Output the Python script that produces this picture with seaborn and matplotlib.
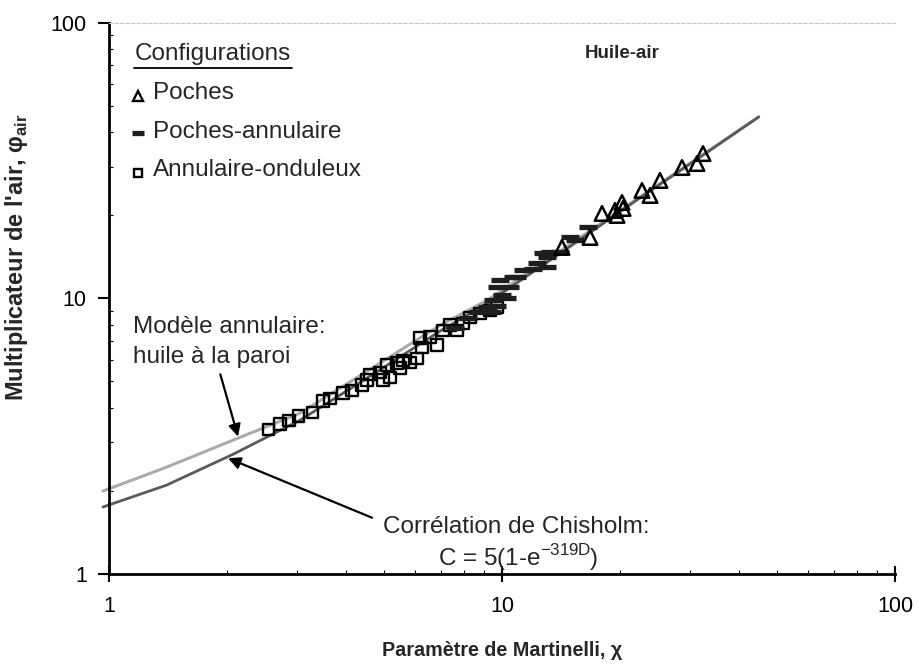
import numpy as np
import pandas as pd
import matplotlib
matplotlib.use("Agg")
import matplotlib.pyplot as plt
from matplotlib.lines import Line2D
from matplotlib.ticker import FixedLocator, FixedFormatter, LogLocator, NullFormatter
import seaborn as sns

# Annulaire-onduleux (open squares)
ann_x = [2.55, 2.72, 2.87, 3.04, 3.29, 3.50, 3.65, 3.94, 4.15, 4.40, 4.54, 4.62,
         4.89, 4.98, 5.19, 5.10, 5.41, 5.50, 5.60, 5.83, 6.08, 6.26, 6.19, 6.56,
         6.83, 7.08, 7.37, 7.68, 7.96, 8.29, 8.79, 9.32, 9.71]
ann_phi = [3.35, 3.50, 3.61, 3.74, 3.86, 4.24, 4.34, 4.53, 4.64, 4.84, 5.05, 5.30,
           5.39, 5.05, 5.17, 5.72, 5.82, 5.58, 5.96, 5.86, 6.06, 6.64, 7.17, 7.23,
           6.76, 7.66, 7.99, 7.66, 8.12, 8.53, 8.82, 9.05, 9.28]

# Poches-annulaire (dashes)
pa_x = [7.59, 8.20, 8.69, 9.16, 9.43, 9.49, 9.71, 9.88, 9.71, 10.0, 10.30, 10.48,
        10.67, 10.92, 11.31, 11.99, 12.27, 12.72, 13.02, 13.02, 13.25, 14.05, 14.89,
        15.34, 16.55]
pa_phi = [7.79, 8.46, 8.90, 9.28, 8.90, 9.84, 9.36, 11.62, 10.96, 10.25, 10.00, 10.96,
          11.92, 11.92, 12.63, 12.74, 13.39, 14.56, 12.95, 14.08, 14.68, 14.68, 16.63,
          16.23, 18.08]

# Poches (open triangles)
po_x = [14.21, 16.75, 17.97, 19.39, 19.62, 20.20, 20.32, 22.71, 23.81, 25.23, 28.71,
        31.35, 32.47]
po_phi = [15.30, 16.63, 20.32, 20.84, 19.99, 22.27, 21.19, 24.62, 23.62, 26.77, 29.83,
          30.84, 33.52]

# Model curves
curve_x = [0.965, 1.4, 2.07, 3.06, 4.5, 6.95, 9.16, 14.0, 22.0, 32.0, 45.0]
annular_phi = [2.00, 2.44, 3.06, 3.83, 5.40, 7.98, 9.83, 14.8, 22.9, 32.8, 45.6]
chisholm_phi = [1.75, 2.10, 2.72, 3.61, 5.10, 7.60, 9.60, 14.5, 22.7, 32.6, 45.5]

sns.set_theme(style="white")
plt.rcParams['font.family'] = ['Liberation Sans', 'DejaVu Sans']
plt.rcParams['axes.unicode_minus'] = False

W, H = 920, 664
fig = plt.figure(figsize=(W / 100, H / 100), dpi=100)
ax = fig.add_axes([109 / W, 1 - 574 / H, (895 - 109) / W, (574 - 22.7) / H])
ax.set_xscale('log')
ax.set_yscale('log')

sns.lineplot(x=curve_x, y=annular_phi, ax=ax, color='#ababab', lw=2.2,
             sort=False, estimator=None, clip_on=False, zorder=2)
sns.lineplot(x=curve_x, y=chisholm_phi, ax=ax, color='#5a5a5a', lw=2.0,
             sort=False, estimator=None, clip_on=False, zorder=2)

sns.scatterplot(x=ann_x, y=ann_phi, ax=ax, marker='s', s=68, facecolor='none',
                edgecolor='black', linewidth=1.7, zorder=3)
sns.scatterplot(x=pa_x, y=pa_phi, ax=ax, marker='_', s=160, color='#1e1e1e',
                linewidth=3.8, zorder=3)
sns.scatterplot(x=po_x, y=po_phi, ax=ax, marker='^', s=110, facecolor='none',
                edgecolor='black', linewidth=1.8, zorder=3)

ax.set_xlim(1, 100)
ax.set_ylim(1, 100)
for axis in (ax.xaxis, ax.yaxis):
    axis.set_major_locator(FixedLocator([1, 10, 100]))
    axis.set_major_formatter(FixedFormatter(['1', '10', '100']))
    axis.set_minor_locator(LogLocator(base=10, subs=np.arange(2, 10)))
    axis.set_minor_formatter(NullFormatter())
ax.grid(False)
ax.tick_params(which='both', bottom=True, left=True, top=False, right=False, colors='black')
ax.tick_params(axis='x', which='major', direction='inout', length=12, width=1.5,
               labelsize=15.5, pad=10)
ax.tick_params(axis='y', which='major', direction='out', length=8, width=1.5,
               labelsize=15.5, pad=8)
ax.tick_params(which='minor', direction='in', length=3, width=0.8)
for side in ('left', 'bottom'):
    ax.spines[side].set_color('black')
    ax.spines[side].set_linewidth(2)
ax.spines['right'].set_visible(False)
ax.spines['top'].set_color('#c4c4c4')
ax.spines['top'].set_linewidth(0.8)
ax.spines['top'].set_linestyle((0, (3, 2)))

ax.set_xlabel("Paramètre de Martinelli, χ", fontsize=14.2, fontweight='bold', labelpad=17)
ax.set_ylabel("Multiplicateur de l'air, φ$_{\\mathregular{air}}$", fontsize=17,
              fontweight='bold')
ax.yaxis.set_label_coords((30 - 109) / 786, (574 - 257) / 551.3)

# Legend block drawn by hand
fs = 17.5
fig.text(135 / W, 1 - 54 / H, "Configurations", fontsize=fs, va='center', ha='left')
fig.add_artist(Line2D([134 / W, 292 / W], [1 - 68 / H, 1 - 68 / H], color='black', lw=1.3))
rows = [("Poches", 93, '^'), ("Poches-annulaire", 132, '_'), ("Annulaire-onduleux", 170, 's')]
for label, yp, mk in rows:
    fig.text(153 / W, 1 - yp / H, label, fontsize=fs, va='center', ha='left')
    if mk == '_':
        fig.add_artist(Line2D([138 / W], [1 - (yp + 1) / H], marker='_', ms=9, mew=3.8,
                              color='#1e1e1e', transform=fig.transFigure))
    else:
        fig.add_artist(Line2D([138 / W], [1 - (yp + 3) / H], marker=mk,
                              ms=7 if mk == '^' else 6, mfc='none', mec='black', mew=1.7,
                              transform=fig.transFigure))

fig.text(622 / W, 1 - 54 / H, "Huile-air", fontsize=13.5, fontweight='bold',
         va='center', ha='center')

# Curve annotations
fig.text(133 / W, 1 - 327 / H, "Modèle annulaire:", fontsize=fs, va='center', ha='left')
fig.text(133 / W, 1 - 357 / H, "huile à la paroi", fontsize=fs, va='center', ha='left')
ax.annotate("", xy=(2.13, 3.15), xytext=(1.92, 5.3),
            arrowprops=dict(arrowstyle='-|>', color='black', lw=1.6, mutation_scale=18,
                            shrinkA=0, shrinkB=0))
fig.text(383 / W, 1 - 527 / H, "Corrélation de Chisholm:", fontsize=fs, va='center', ha='left')
fig.text(518 / W, 1 - 558 / H, "C = 5(1-e$^{\\mathregular{-319D}}$)", fontsize=fs,
         va='center', ha='center')
ax.annotate("", xy=(2.01, 2.63), xytext=(4.67, 1.6),
            arrowprops=dict(arrowstyle='-|>', color='black', lw=1.6, mutation_scale=18,
                            shrinkA=0, shrinkB=0))

fig.savefig("out.png", dpi=100)
